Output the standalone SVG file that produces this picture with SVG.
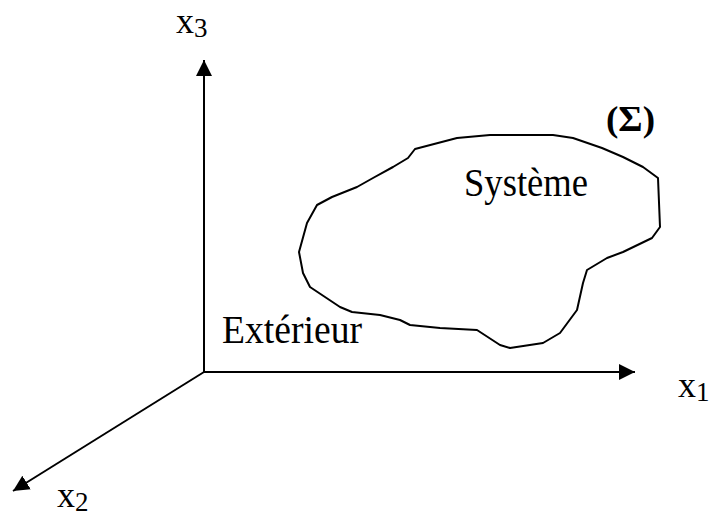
<svg xmlns="http://www.w3.org/2000/svg" width="709" height="518" viewBox="0 0 709 518">
<style>
.ax{stroke:#000;stroke-width:2;fill:none}
.t{font-family:"Liberation Serif","Times New Roman",serif;fill:#000}
.lbl{font-size:36px}
.sub{font-size:27px}
.blob{fill:none;stroke:#000;stroke-width:2;stroke-linejoin:round}
</style>
<defs>
<marker id="ah" markerUnits="userSpaceOnUse" markerWidth="18" markerHeight="16" refX="16" refY="8" orient="auto">
<path d="M0,0 L16,8 L0,16 Z" fill="#000"/>
</marker>
</defs>
<g id="connectors">
<line class="ax" x1="204" y1="372" x2="204" y2="60" marker-end="url(#ah)"/>
<line class="ax" x1="203" y1="372" x2="635" y2="372" marker-end="url(#ah)"/>
<line class="ax" x1="204" y1="372" x2="13" y2="491" marker-end="url(#ah)"/>
</g>
<g id="system">
<path class="blob" d="M415,149 L457,138 L490,135 L553,135 L573,138 L602,148 L623,157 L643,167 L658,178 L660,227 L652,238 L623,252 L607,258 L587,270 L583,283 L577,310 L560,333 L543,343 L510,348 L500,345 L477,330 L440,328 L410,325 L400,320 L380,315 L352,312 L340,307 L310,287 L303,273 L299,252 L307,223 L317,205 L332,197 L357,187 L373,178 L393,167 L408,158 Z"/>
<text class="t" x="464" y="196" font-size="39" textLength="124" lengthAdjust="spacingAndGlyphs">Système</text>
<text class="t" x="606" y="131" font-size="35" font-weight="bold" textLength="49" lengthAdjust="spacingAndGlyphs">(Σ)</text>
</g>
<g id="exterieur">
<text class="t" x="222" y="343" font-size="39" textLength="140" lengthAdjust="spacingAndGlyphs">Extérieur</text>
</g>
<g id="x3">
<text class="t lbl" x="176" y="33">x<tspan class="sub" dy="4">3</tspan></text>
</g>
<g id="x1">
<text class="t lbl" x="678" y="397">x<tspan class="sub" dy="4">1</tspan></text>
</g>
<g id="x2">
<text class="t lbl" x="57" y="507">x<tspan class="sub" dy="4">2</tspan></text>
</g>
</svg>
